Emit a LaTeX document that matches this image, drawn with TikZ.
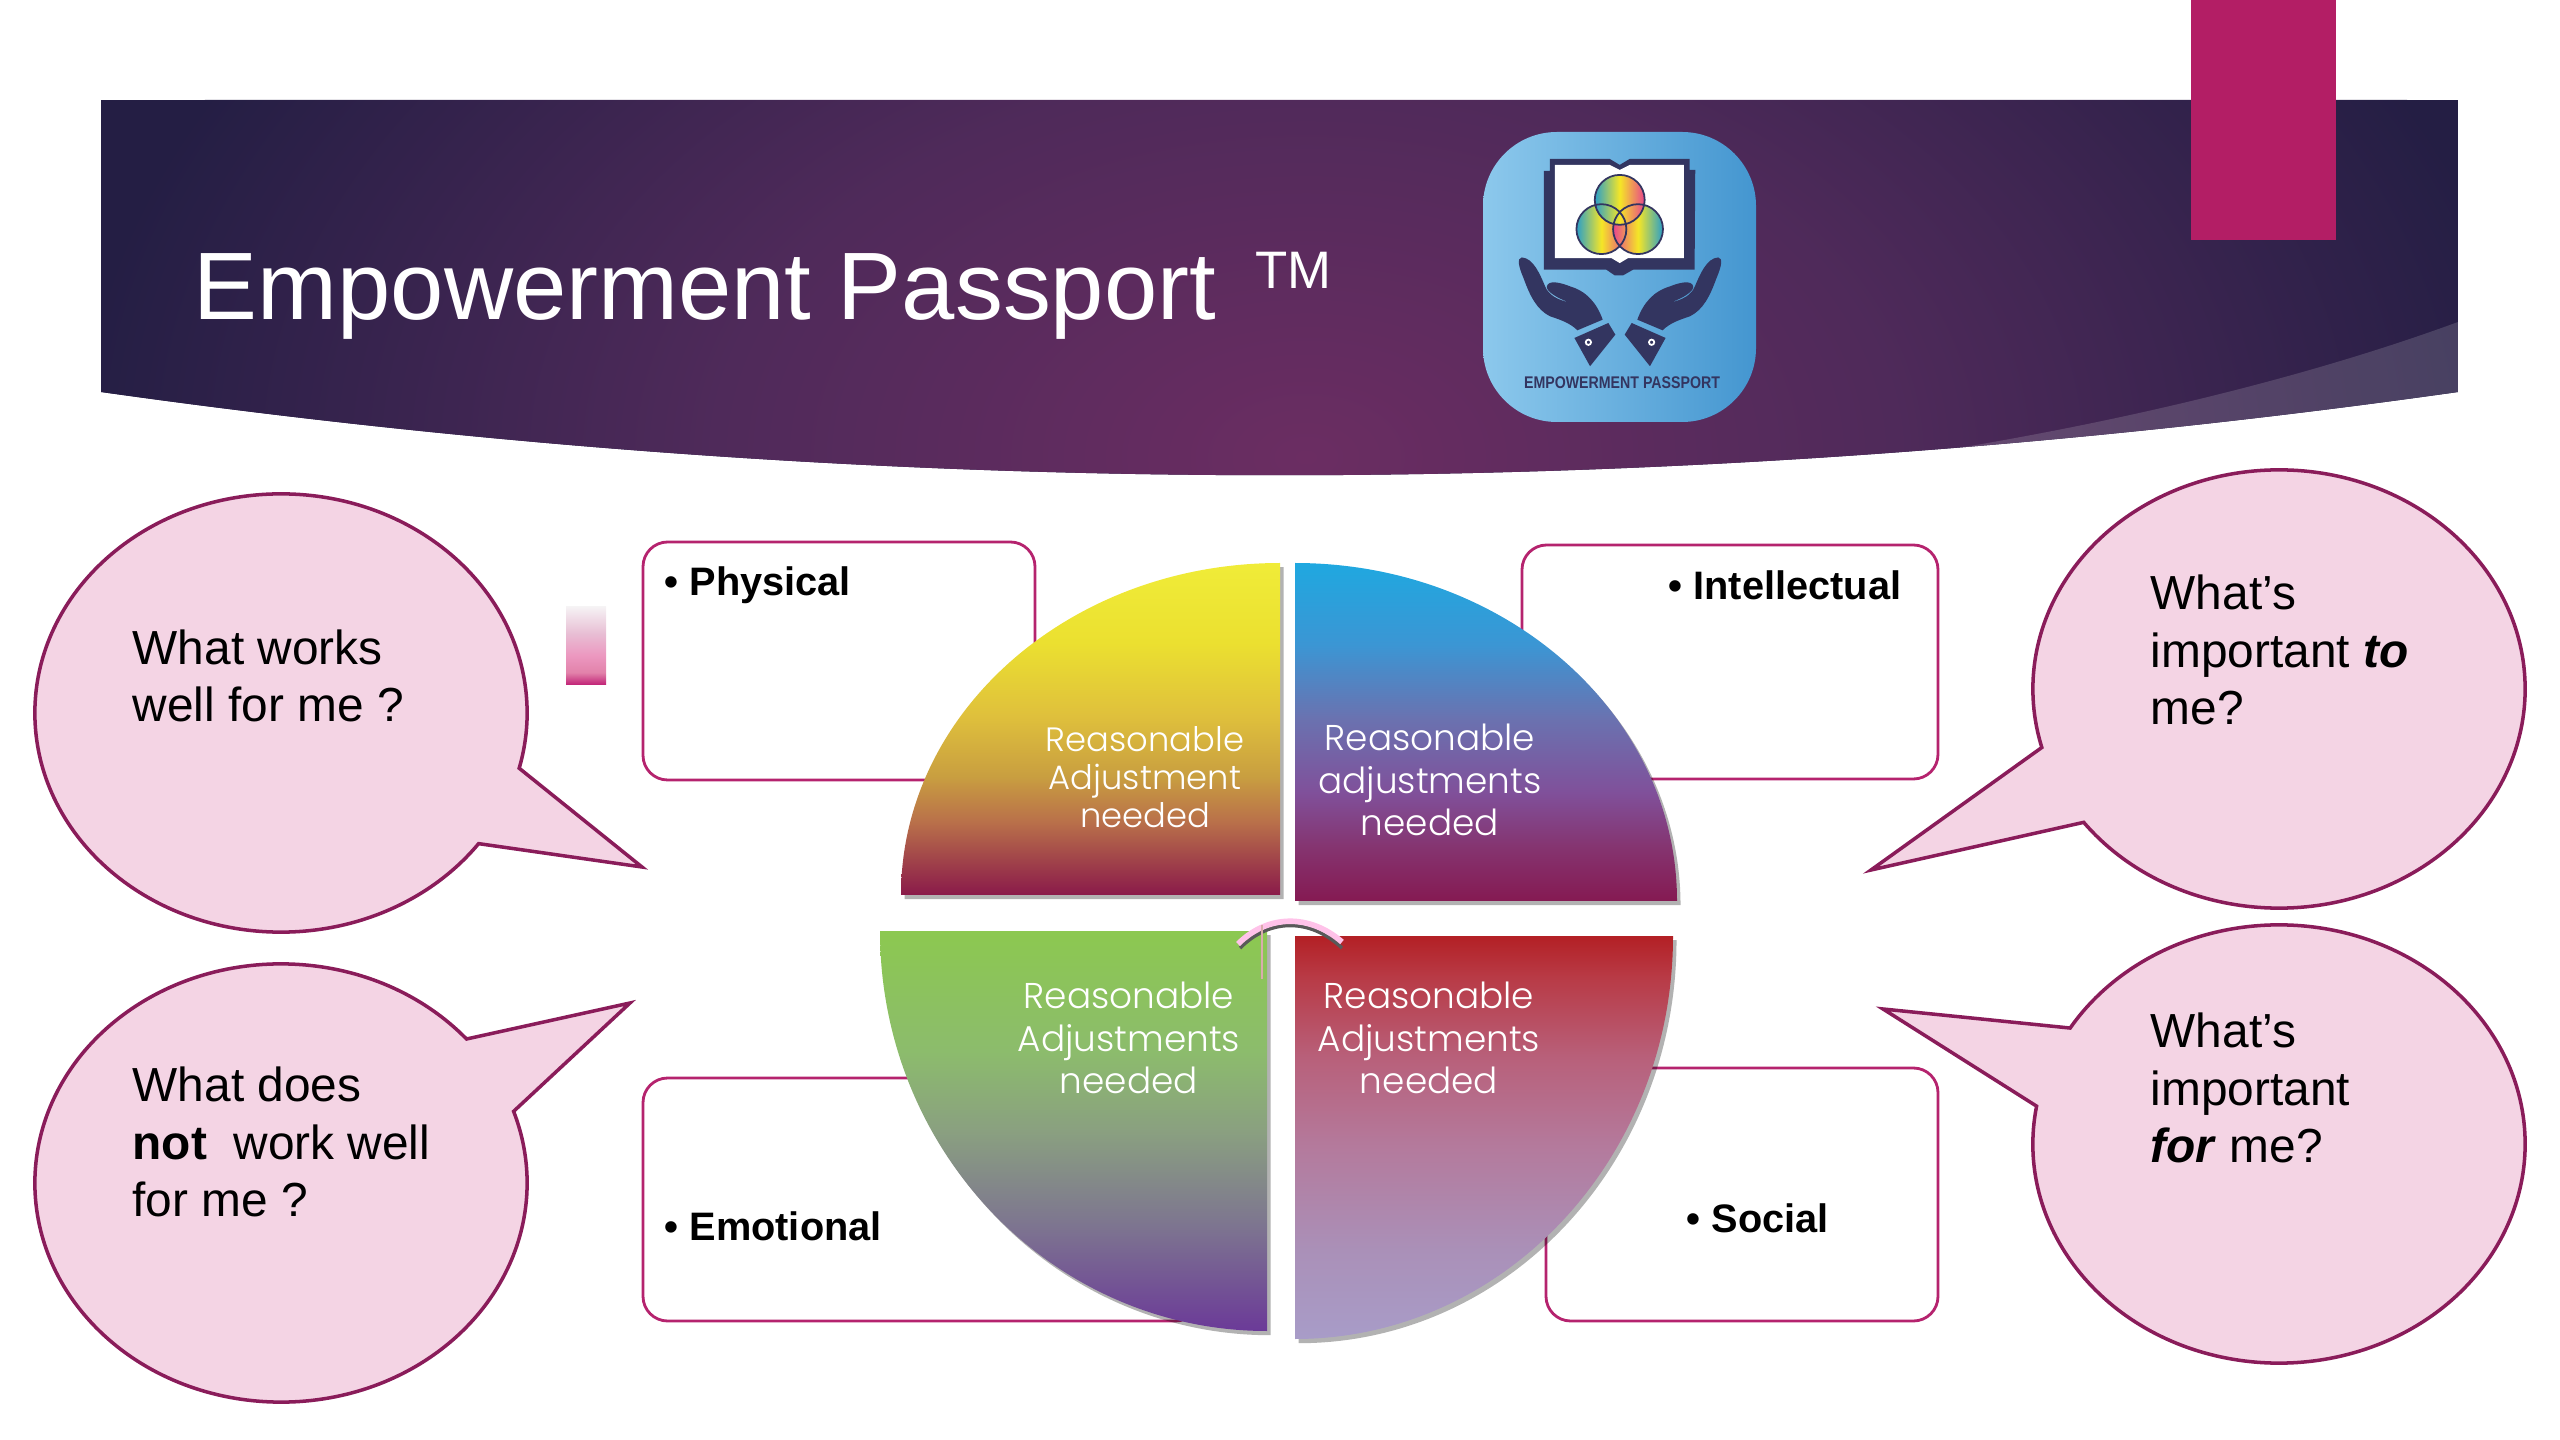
\documentclass[tikz,border=0pt]{standalone}
\usepackage{fontspec}
\setmainfont{Liberation Sans}
\newfontfamily\gothicfont{Poppins Light}
\usepackage{tikz}
\usetikzlibrary{shapes.callouts,shadows}
\definecolor{bannermid}{HTML}{6B2D62}
\definecolor{bannerside}{HTML}{4F2A5A}
\definecolor{bannerdark}{HTML}{241E44}
\definecolor{tabpink}{HTML}{B31E65}
\definecolor{boxline}{HTML}{B5236E}
\definecolor{bubblefill}{HTML}{F4D4E4}
\definecolor{bubbleline}{HTML}{8A1C5A}
\definecolor{logoink}{HTML}{333560}
\definecolor{vennteal}{HTML}{2A9FC8}
\definecolor{vennyellow}{HTML}{F5E626}
\definecolor{vennpink}{HTML}{E8458C}
\pgfdeclareradialshading{bannerglow}{\pgfpointorigin}{
  color(0bp)=(bannermid); color(12bp)=(bannerside);
  color(25bp)=(bannerdark); color(50bp)=(bannerdark)}
\pgfdeclareverticalshading{yellowfade}{100bp}{
  rgb(0bp)=(.541,.102,.290); rgb(25bp)=(.541,.102,.290);
  rgb(36bp)=(.725,.439,.290); rgb(43bp)=(.788,.624,.251);
  rgb(52bp)=(.875,.753,.235); rgb(63bp)=(.922,.878,.188);
  rgb(75bp)=(.941,.925,.220); rgb(100bp)=(.941,.925,.220)}
\pgfdeclareverticalshading{bluefade}{100bp}{
  rgb(0bp)=(.522,.102,.322); rgb(25bp)=(.522,.102,.322);
  rgb(33bp)=(.522,.204,.439); rgb(41bp)=(.502,.314,.604);
  rgb(52bp)=(.416,.447,.690); rgb(63bp)=(.231,.588,.831);
  rgb(75bp)=(.122,.659,.878); rgb(100bp)=(.122,.659,.878)}
\pgfdeclareverticalshading{greenfade}{100bp}{
  rgb(0bp)=(.420,.227,.596); rgb(25bp)=(.420,.227,.596);
  rgb(38bp)=(.490,.455,.565); rgb(50bp)=(.541,.627,.502);
  rgb(60bp)=(.549,.737,.424);
  rgb(75bp)=(.549,.784,.314); rgb(100bp)=(.549,.784,.314)}
\pgfdeclareverticalshading{redfade}{100bp}{
  rgb(0bp)=(.659,.612,.784); rgb(25bp)=(.659,.612,.784);
  rgb(36bp)=(.667,.565,.722); rgb(49bp)=(.706,.478,.612);
  rgb(60bp)=(.722,.376,.478); rgb(70bp)=(.722,.227,.271);
  rgb(75bp)=(.702,.125,.145); rgb(100bp)=(.702,.125,.145)}
\pgfdeclareverticalshading{swatchfade}{100bp}{
  rgb(0bp)=(.753,.125,.459); rgb(25bp)=(.753,.125,.459);
  rgb(33bp)=(.886,.510,.667); rgb(44bp)=(.925,.596,.753);
  rgb(58bp)=(.910,.745,.831); rgb(75bp)=(.961,.949,.957);
  rgb(100bp)=(.961,.949,.957)}
\begin{document}
\begin{tikzpicture}[
  x=0.01cm, y=-0.01cm,
  boxnote/.style={draw=boxline, line width=0.8pt, rounded corners=7pt, fill=white},
  boxtext/.style={font=\fontsize{11.3}{14}\bfseries\selectfont, text=black, inner sep=0pt},
  bubble/.style={ellipse callout, draw=bubbleline, line width=1pt, fill=bubblefill,
                 minimum width=4.92cm, minimum height=4.38cm, inner sep=0pt,
                 callout pointer arc=22},
  bubbletext/.style={font=\fontsize{13.6}{16.3}\selectfont, text=black, align=left,
                     anchor=west, inner sep=0pt},
  quarter/.style={drop shadow={shadow xshift=1pt, shadow yshift=-1.2pt, opacity=.3, fill=black}},
  quartertext/.style={font=\fontsize{10.2}{12}\gothicfont\selectfont, text=white, align=center, inner sep=0pt}
]
  \useasboundingbox (0,0) rectangle (2560,1440);

  % Banner across the top
  \begin{scope}
    \clip (101,100) -- (2458,100) -- (2458,392)
      .. controls (1672,503) and (887,503) .. (101,392) -- cycle;
    \fill[bannerdark] (101,100) rectangle (2458,520);
    \shade[shading=bannerglow] (1306,457) circle[x radius=1230, y radius=800];
    \fill[white, opacity=.15] (1810,470) .. controls (2080,435) and (2300,380) .. (2458,322)
      -- (2458,520) -- (1810,520) -- cycle;
  \end{scope}
  \fill[tabpink] (2191,0) rectangle (2336,240);
  \node[font=\fontsize{27.25}{30}\selectfont, text=white, anchor=base west, inner sep=0pt] (title)
    at (193,320) {Empowerment Passport};
  \node[font=\fontsize{15}{16}\selectfont, text=white, anchor=base west, inner sep=0pt] (trademark)
    at (1255,289) {TM};

  % Logo tile, drawn in zoomed-in units
  \definecolor{tileleft}{HTML}{8CC8EC}
  \definecolor{tileright}{HTML}{4496D0}
  \shade[left color=tileleft, right color=tileright, rounded corners=21pt]
    (1483,132) rectangle (1756,422);
  \begin{scope}[shift={(1440,110)}, x=0.00333cm, y=-0.00333cm]
    \fill[logoink] (330,147) -- (510,147) -- (540,165) -- (570,147) -- (750,147) -- (750,180)
      -- (767,180) -- (765,480) -- (580,480) -- (550,497) -- (525,497) -- (500,480)
      -- (312,480) -- (312,183) -- (330,183) -- cycle;
    \fill[white] (345,165) -- (510,165) -- (540,180) -- (570,165) -- (733,165) -- (733,445)
      -- (565,445) -- (540,460) -- (515,445) -- (345,445) -- cycle;
    \shade[shading angle=-45, left color=vennteal, right color=vennpink, middle color=vennyellow]
      (485,358) circle[radius=75];
    \shade[shading angle=45, left color=vennpink, right color=vennteal, middle color=vennyellow]
      (595,358) circle[radius=75];
    \shade[left color=vennteal, right color=vennpink, middle color=vennyellow]
      (540,270) circle[radius=75];
    \draw[logoink, line width=.5pt] (485,358) circle[radius=75] (595,358) circle[radius=75]
      (540,270) circle[radius=75];
  \end{scope}
  \foreach \handside in {1,-1} {
    \begin{scope}[shift={(1620,110)}, x=\handside*0.00333cm, y=-0.00333cm]
      \fill[logoink] (-295,443) .. controls (-310,445) and (-305,470) .. (-290,505)
        .. controls (-270,560) and (-250,600) .. (-210,620)
        .. controls (-180,630) and (-150,640) .. (-128,662) -- (-52,630)
        .. controls (-70,580) and (-100,545) .. (-150,530)
        .. controls (-180,518) and (-215,510) .. (-220,530)
        .. controls (-222,545) and (-190,565) .. (-153,578)
        .. controls (-190,570) and (-215,555) .. (-225,530)
        .. controls (-240,495) and (-260,445) .. (-295,443) -- cycle;
      \fill[logoink] (-137,685) -- (-35,640) -- (-14,675) -- (-90,770) -- cycle;
      \filldraw[fill=logoink, draw=white, line width=.5pt] (-95,698) circle[radius=8];
    \end{scope}
  }
  \node[font=\fontsize{4.8}{6}\bfseries\selectfont, text=logoink, inner sep=0pt] (logotext)
    at (1622,383) {\scalebox{.84}[1]{EMPOWERMENT PASSPORT}};

  % Notes behind the circle
  \draw[boxnote] (643,542) rectangle (1035,780);
  \draw[boxnote] (1522,545) rectangle (1938,779);
  \draw[boxnote] (643,1078) rectangle (1200,1321);
  \draw[boxnote] (1546,1068) rectangle (1938,1321);
  \node[boxtext, anchor=base west] (physical) at (664,596) {• Physical};
  \node[boxtext, anchor=base west] (intellectual) at (1668,600) {• Intellectual};
  \node[boxtext, anchor=base west] (emotional) at (664,1240) {• Emotional};
  \node[boxtext, anchor=base west] (social) at (1686,1232) {• Social};

  % Swatch beside the first note
  \shade[shading=swatchfade] (566,607) rectangle (606,685);

  % Four quarters of the circle
  \shade[quarter, shading=yellowfade]
    (1280,563) arc[start angle=270, end angle=180, x radius=379, y radius=332] -- (1280,895) -- cycle;
  \shade[quarter, shading=bluefade]
    (1295,563) arc[start angle=270, end angle=360, x radius=382, y radius=338] -- (1295,901) -- cycle;
  \shade[quarter, shading=greenfade]
    (880,931) arc[start angle=180, end angle=90, x radius=387, y radius=400] -- (1267,931) -- cycle;
  \shade[quarter, shading=redfade]
    (1673,936) arc[start angle=0, end angle=90, x radius=378, y radius=403] -- (1295,936) -- cycle;
  \node[quartertext, font=\fontsize{9.6}{10.8}\gothicfont\selectfont] (physicalneed) at (1145,777) {Reasonable\\Adjustment\\needed};
  \node[quartertext] (intellectualneed) at (1430,780) {Reasonable\\adjustments\\needed};
  \node[quartertext] (emotionalneed) at (1129,1038) {Reasonable\\Adjustments\\needed};
  \node[quartertext] (socialneed) at (1429,1038) {Reasonable\\Adjustments\\needed};

  % Little arc over the middle
  \draw[gray!70!black, line width=1pt] (1240,948) .. controls (1270,918) and (1310,918) .. (1342,948);
  \draw[pink!70!magenta!50!white, line width=1.6pt] (1238,944) .. controls (1268,914) and (1310,914) .. (1342,942);
  \draw[pink!70!gray, line width=.8pt] (1262,925) -- (1262,979);

  % Speech bubbles
  \node[bubble, callout absolute pointer={(642,867)}] (worksbubble) at (281,713) {};
  \node[bubble, callout absolute pointer={(630,1003)}] (notbubble) at (281,1183) {};
  \node[bubble, callout absolute pointer={(1871,870)}] (tobubble) at (2279,689) {};
  \node[bubble, callout absolute pointer={(1883,1009)}] (forbubble) at (2279,1144) {};
  \node[bubbletext] (workstext) at (132,676) {What works\\well for me ?};
  \node[bubbletext] (nottext) at (132,1142) {What does\\\textbf{not}\ \ work well\\for me ?};
  \node[bubbletext] (totext) at (2150,650) {What’s\\important \textbf{\textit{to}}\\me?};
  \node[bubbletext] (fortext) at (2150,1088) {What’s\\important\\\textbf{\textit{for}} me?};
\end{tikzpicture}
\end{document}
